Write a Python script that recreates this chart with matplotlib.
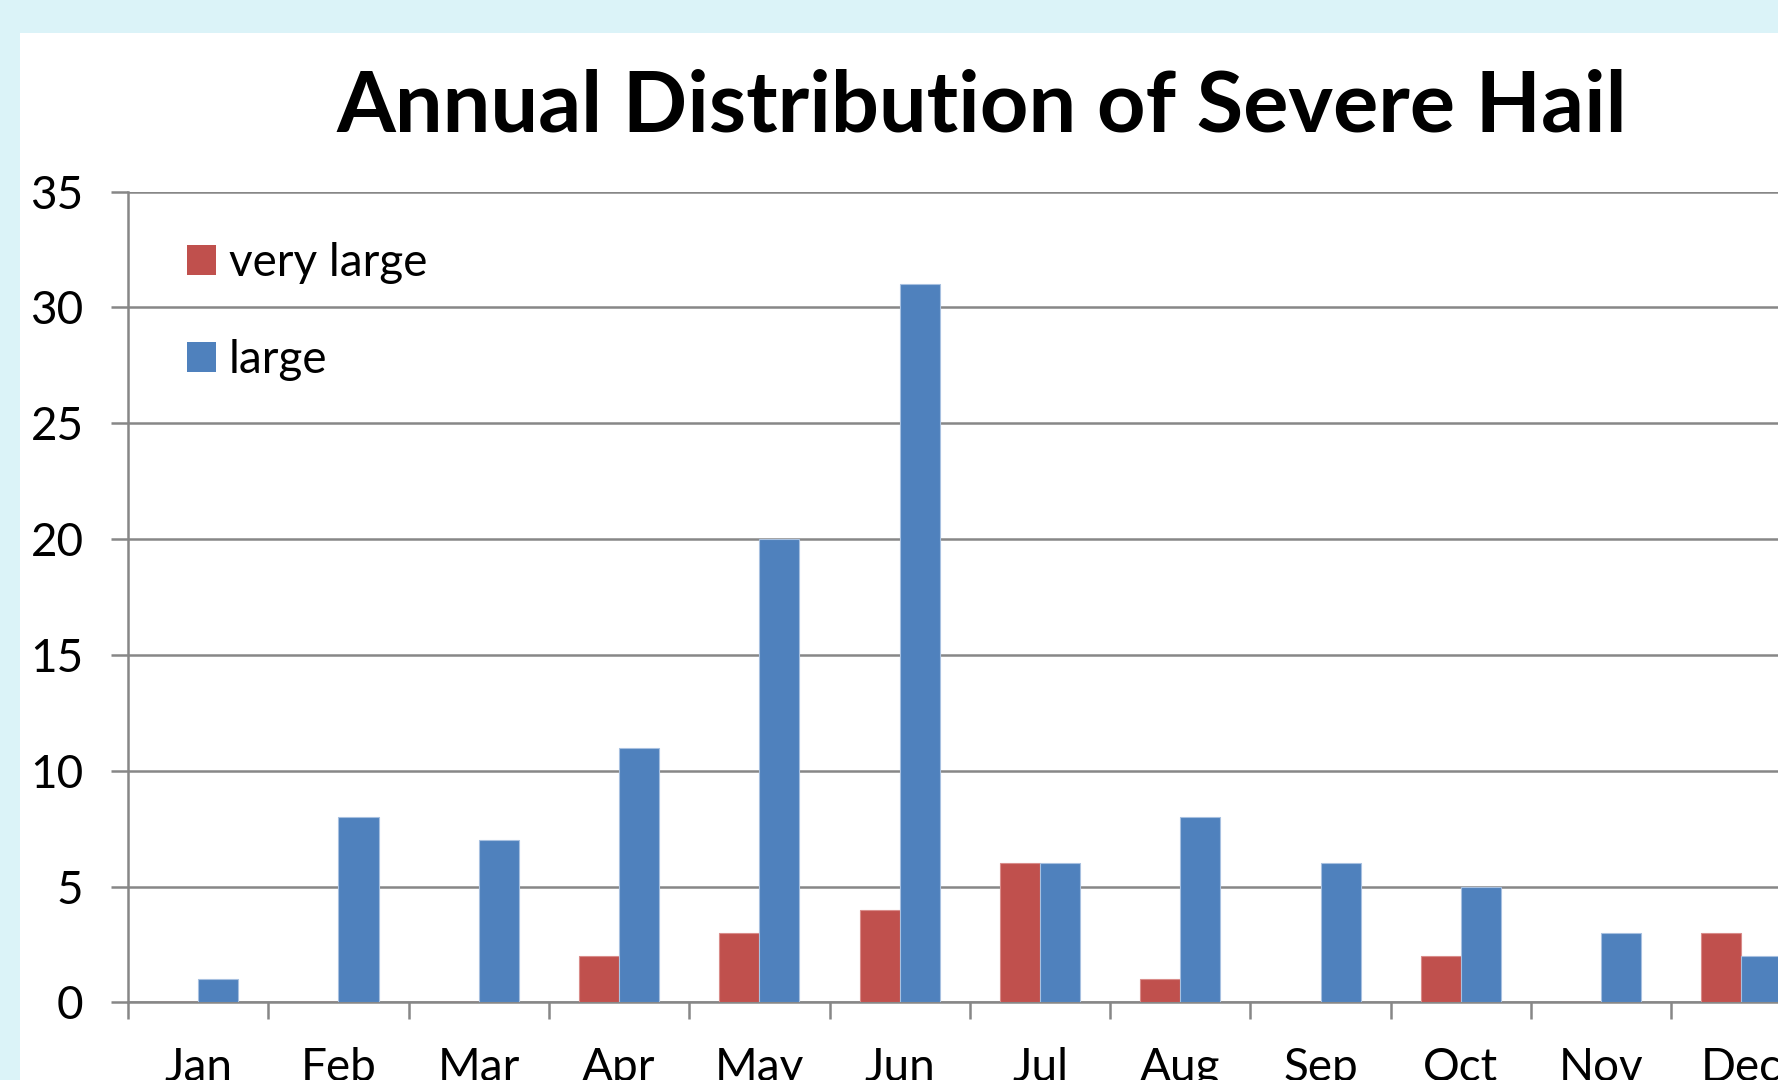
import matplotlib
matplotlib.use("Agg")
import matplotlib.pyplot as plt
from matplotlib.patches import Rectangle, Patch
import numpy as np

months = ["Jan", "Feb", "Mar", "Apr", "May", "Jun", "Jul", "Aug", "Sep", "Oct", "Nov", "Dec"]
very_large = [0, 0, 0, 2, 3, 4, 6, 1, 0, 2, 0, 3]
large = [1, 8, 7, 11, 20, 31, 6, 8, 6, 5, 3, 2]
series_names = ["very large", "large"]
title = "Annual Distribution of Severe Hail"

RED = "#C0504D"
BLUE = "#4F81BD"
GRID = "#878787"
FONT = ["Lato", "DejaVu Sans"]
FS = 33

W, H = 1778, 1080
fig = plt.figure(figsize=(W / 100, H / 100), dpi=100)
fig.patch.set_facecolor("#DBF3F8")
fig.patches.append(Rectangle((20 / W, 0), 1.0, 1 - 33 / H, transform=fig.transFigure,
                             facecolor="white", edgecolor="none", zorder=-5))

ax_left, ax_bottom, ax_top, cat_w = 128, 1002.4, 191.6, 140.3
ax = fig.add_axes([ax_left / W, (H - ax_bottom) / H, 12 * cat_w / W, (ax_bottom - ax_top) / H])
ax.set_facecolor("none")
ax.set_zorder(2)

x = np.arange(len(months))
bw = 1 / 3.5
ax.bar(x - bw / 2, very_large, bw, color=RED, edgecolor="#D98C8A", linewidth=0.8, zorder=3, label=series_names[0])
ax.bar(x + bw / 2, large, bw, color=BLUE, edgecolor="#A7C0E0", linewidth=0.8, zorder=3, label=series_names[1])

ax.set_xlim(-0.5, 11.5)
ax.set_ylim(0, 35)
ax.set_yticks(range(0, 36, 5))
ax.yaxis.grid(True, color=GRID, linewidth=1.8, zorder=1)
ax.set_axisbelow(True)
for s in ["top", "right"]:
    ax.spines[s].set_visible(False)
for s in ["left", "bottom"]:
    ax.spines[s].set_color(GRID)
    ax.spines[s].set_linewidth(1.8)

ax.set_xticks(x)
ax.set_xticklabels(months)
ax.set_xticks(np.arange(-0.5, 12, 1), minor=True)
ax.tick_params(axis="x", which="major", length=0, pad=32, labelsize=FS)
ax.tick_params(axis="x", which="minor", length=12, width=1.8, color=GRID, direction="out")
ax.tick_params(axis="y", length=12, width=1.8, color=GRID, pad=20, labelsize=FS)
for lab in ax.get_xticklabels() + ax.get_yticklabels():
    lab.set_fontfamily(FONT)

fig.text(982 / W, 1 - 132 / H, title, ha="center", va="baseline",
         fontsize=61, fontweight="bold", family=FONT)

handles = [Patch(facecolor=RED, edgecolor="none"), Patch(facecolor=BLUE, edgecolor="none")]
leg = ax.legend(handles, series_names, loc="upper left", bbox_to_anchor=(187 / W, 1 - 242 / H),
                bbox_transform=fig.transFigure, frameon=False, handlelength=0.64, handleheight=0.64,
                handletextpad=0.27, labelspacing=1.2, borderpad=0, borderaxespad=0,
                prop={"family": FONT, "size": FS})

fig.savefig("out.png", dpi=100, facecolor=fig.get_facecolor())
